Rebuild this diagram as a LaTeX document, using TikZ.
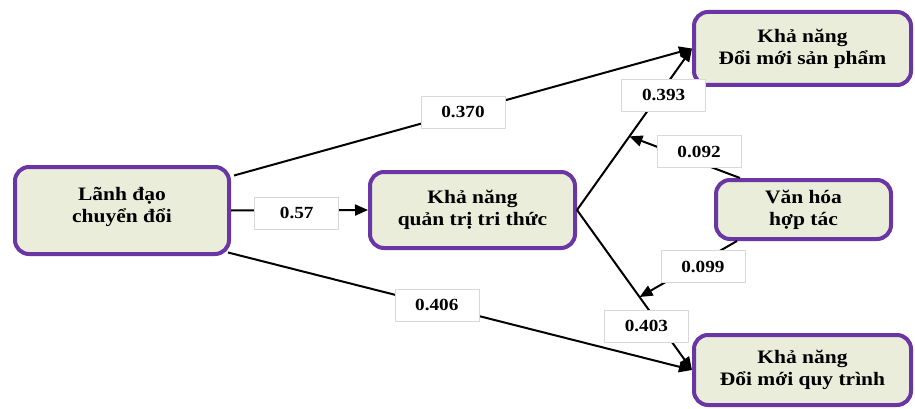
\documentclass[tikz,border=0pt]{standalone}
\usepackage{fontspec}
\setmainfont{Liberation Serif}[FakeStretch=1.13]
\usetikzlibrary{arrows.meta,calc}
\definecolor{boxfill}{HTML}{E9EDD9}
\definecolor{boxedge}{HTML}{6A36A4}
\definecolor{lbledge}{HTML}{D8D8D8}
\begin{document}
\begin{tikzpicture}[x=1pt,y=-1pt,
  box/.style={draw=boxedge, line width=4pt, fill=boxfill, rounded corners=14pt,
    align=center, font=\fontsize{19}{22}\selectfont\bfseries, inner sep=0pt},
  lbl/.style={draw=lbledge, line width=0.6pt, fill=white,
    font=\fontsize{17}{20}\selectfont\bfseries,
    minimum width=84pt, minimum height=32pt, inner sep=0pt},
  link/.style={line width=2pt},
  arr/.style={link, -{Triangle[length=13pt,width=11pt]}}]
\useasboundingbox (0,0) rectangle (915,409);

% constructs
\node[box, minimum width=214pt, minimum height=87pt, text depth=12pt] (L) at (122,210.5) {Lãnh đạo\\chuyển đổi};
\node[box, minimum width=205pt, minimum height=76pt] (K) at (472.5,210) {Khả năng\\quản trị tri thức};
\node[box, minimum width=217pt, minimum height=73pt] (SP) at (802.5,48.5) {Khả năng\\Đổi mới sản phẩm};
\node[box, minimum width=175pt, minimum height=59pt] (VH) at (803.5,209.5) {Văn hóa\\hợp tác};
\node[box, minimum width=217pt, minimum height=70pt] (QT) at (802.5,370) {Khả năng\\Đổi mới quy trình};

% moderation targets on the mediated paths
\coordinate (m1) at ($(K.east)!0.456!(SP.west)$);
\coordinate (m2) at ($(K.east)!0.544!(QT.west)$);

% direct paths
\draw[arr] ([xshift=3pt,yshift=35pt]L.east) -- node[lbl,pos=0.5]{0.370} (SP.west);
\draw[arr] (L.east) -- node[lbl,pos=0.48,yshift=-3pt]{0.57} (K.west);
\draw[arr] ([xshift=-3pt,yshift=-42pt]L.east) -- node[lbl,pos=0.45]{0.406} (QT.west);

% mediated paths
\draw[arr] (K.east) -- node[lbl,pos=0.71,xshift=5pt]{0.393} (SP.west);
\draw[arr] (K.east) -- node[lbl,pos=0.725,xshift=-14pt]{0.403} (QT.west);

% moderation
\draw[arr] ([xshift=-63.5pt]VH.north) -- node[lbl,pos=0.37,yshift=11pt]{0.092} (m1);
\draw[arr] ([xshift=-66.5pt]VH.south) -- node[lbl,pos=0.35,yshift=-6pt]{0.099} (m2);
\end{tikzpicture}
\end{document}
